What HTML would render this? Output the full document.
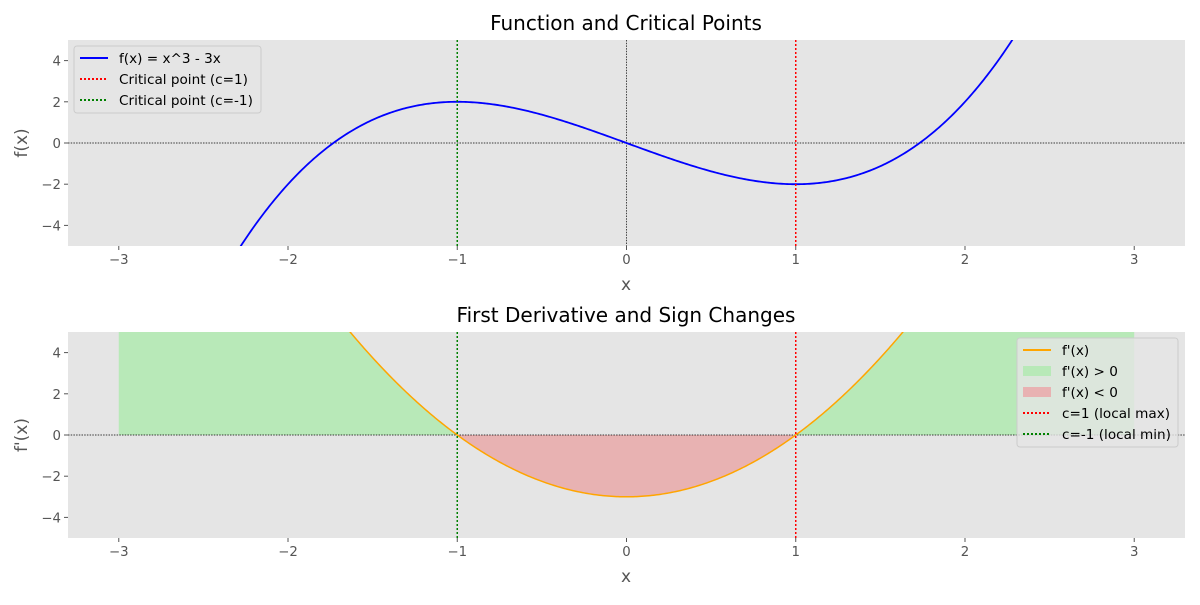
<!DOCTYPE html>
<html><head><meta charset="utf-8"><style>
body{margin:0;background:#fff;font-family:"Liberation Sans","DejaVu Sans",sans-serif}
svg text{font-family:"DejaVu Sans","Liberation Sans",sans-serif}
</style></head><body>
<svg id="c" width="1200" height="600" xmlns="http://www.w3.org/2000/svg"></svg>
<script>
const polyCoeffs=[0,-3,0,1]; // f(x)=c0+c1 x+c2 x^2+c3 x^3
const criticalPoints=[1,-1];
const critColors=['#ff0000','#008000'];
const xTicks=[-3,-2,-1,0,1,2,3];
const yTicks=[-4,-2,0,2,4];
const xDomain=[-3,3];
const svg=document.getElementById('c');
const NS='http://www.w3.org/2000/svg';
function el(t,a,p){const e=document.createElementNS(NS,t);for(const k in a)e.setAttribute(k,a[k]);(p||svg).appendChild(e);return e;}
function f(x){return polyCoeffs.reduce((s,c,i)=>s+c*Math.pow(x,i),0);}
function df(x){return polyCoeffs.reduce((s,c,i)=>i?s+i*c*Math.pow(x,i-1):s,0);}
const L=68,R=1185;
const sx=x=>L+(x+3.3)/6.6*(R-L);
function panel(top,name,title,ylab,fn,isDeriv){
  const bot=top+206;
  const sy=y=>top+(5-y)/10*(bot-top);
  const g=el('g',{},svg);
  
  
  el('rect',{x:L,y:top,width:R-L,height:bot-top,fill:'#e5e5e5'},g);
  const cid='clip'+top;
  const cp=el('clipPath',{id:cid},g);el('rect',{x:L,y:top,width:R-L,height:bot-top},cp);
  const N=600;const xs=[];for(let i=0;i<=N;i++)xs.push(xDomain[0]+(xDomain[1]-xDomain[0])*i/N);
  if(isDeriv){
    const areas=[[v=>v>0,'#b8e9b8','fill-positive'],[v=>v<0,'#e8b2b2','fill-negative']];
    areas.forEach(([cond,col,nm])=>{
      let d='';let open=false;let seg=[];
      const segs=[];
      xs.forEach(x=>{const v=fn(x);if(cond(v)||Math.abs(v)<1e-9&&open){seg.push(x);open=true;}else{if(seg.length)segs.push(seg);seg=[];open=false;}});
      if(seg.length)segs.push(seg);
      segs.forEach(s=>{d+='M'+sx(s[0])+','+sy(0);s.forEach(x=>d+='L'+sx(x)+','+sy(fn(x)));d+='L'+sx(s[s.length-1])+','+sy(0)+'Z';});
      const p=el('path',{d:d,fill:col,'clip-path':`url(#${cid})`},g);
      
    });
  }
  el('line',{x1:L,x2:R,y1:sy(0),y2:sy(0),stroke:'#000','stroke-width':0.7,'stroke-dasharray':'1.5,1.2'},g);
  if(!isDeriv)el('line',{x1:sx(0),x2:sx(0),y1:top,y2:bot,stroke:'#000','stroke-width':0.7,'stroke-dasharray':'1.5,1.2'},g);
  let d='';xs.forEach((x,i)=>d+=(i?'L':'M')+sx(x).toFixed(2)+','+sy(fn(x)).toFixed(2));
  const ln=el('path',{d:d,fill:'none',stroke:isDeriv?'#ffa500':'#0000ff','stroke-width':isDeriv?1.5:1.8,'clip-path':`url(#${cid})`},g);
  
  criticalPoints.forEach((c,i)=>{const v=el('line',{x1:sx(c),x2:sx(c),y1:top,y2:bot,stroke:critColors[i],'stroke-width':1.5,'stroke-dasharray':'2,2'},g);
    });
  xTicks.forEach(t=>{el('line',{x1:sx(t),x2:sx(t),y1:bot,y2:bot+4,stroke:'#555'},g);
    const tx=el('text',{x:sx(t),y:bot+18,'text-anchor':'middle','font-size':13.3,fill:'#555'},g);tx.textContent=t<0?'−'+(-t):t;});
  yTicks.forEach(t=>{el('line',{x1:L-4,x2:L,y1:sy(t),y2:sy(t),stroke:'#555'},g);
    const tx=el('text',{x:L-7,y:sy(t)+5,'text-anchor':'end','font-size':13.3,fill:'#555'},g);tx.textContent=t<0?'−'+(-t):t;});
  const tt=el('text',{x:626,y:top-10,'text-anchor':'middle','font-size':20,fill:'#000'},g);tt.textContent=title;
  
  const xl=el('text',{x:626,y:bot+44,'text-anchor':'middle','font-size':17,fill:'#555'},g);xl.textContent='x';
  const yl=el('text',{x:27,y:(top+bot)/2,'text-anchor':'middle','font-size':17,fill:'#555',transform:`rotate(-90 27 ${(top+bot)/2})`},g);yl.textContent=ylab;
}
panel(40,'top-panel','Function and Critical Points','f(x)',f,false);
panel(332,'bottom-panel','First Derivative and Sign Changes',"f'(x)",df,true);
function legend(x,y,w,entries,name){
  const g=el('g',{},svg);
  el('rect',{x:x,y:y,width:w,height:entries.length*21+4,rx:3,fill:'#e5e5e5',stroke:'#ccc','fill-opacity':0.8},g);
  entries.forEach((e,i)=>{const cy=y+12+i*21;
    if(e[2]==='patch')el('rect',{x:x+6,y:cy-5,width:28,height:10,fill:e[1]},g);
    else el('line',{x1:x+6,x2:x+34,y1:cy,y2:cy,stroke:e[1],'stroke-width':2,'stroke-dasharray':e[2]==='dot'?'2,2':''},g);
    const t=el('text',{x:x+45,y:cy+5,'font-size':13.6,fill:'#000'},g);t.textContent=e[0];
    });
}
legend(74,46,187,[['f(x) = x^3 - 3x','#0000ff','line'],['Critical point (c=1)','#ff0000','dot'],['Critical point (c=-1)','#008000','dot']],'legend-top');
legend(1017,338,161,[["f'(x)",'#ffa500','line'],["f'(x) > 0",'#b8e9b8','patch'],["f'(x) < 0",'#e8b2b2','patch'],['c=1 (local max)','#ff0000','dot'],['c=-1 (local min)','#008000','dot']],'legend-bottom');
</script>
</body></html>
